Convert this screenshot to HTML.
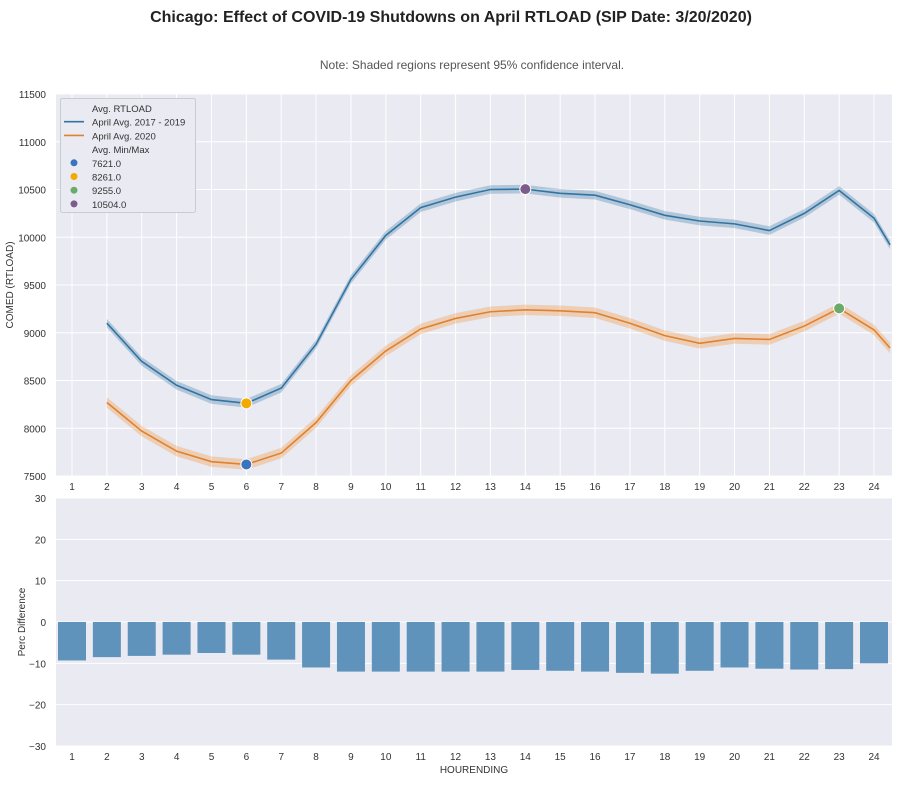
<!DOCTYPE html>
<html><head><meta charset="utf-8"><style>
body{margin:0;background:#fff;font-family:"Liberation Sans",Arial,sans-serif}
</style></head><body>
<svg id="s" width="902" height="782" xmlns="http://www.w3.org/2000/svg" font-family="Liberation Sans, Arial, sans-serif"></svg>
<script>
const s=document.getElementById('s');let h='';
const X=i=>72+(i-1)*34.87;
const Y1=v=>476-(v-7500)*382/4000;
const Y2=v=>622-v*248/60;
h+=`<text x="451" y="22" text-anchor="middle" font-size="16" font-weight="bold" fill="#222">Chicago: Effect of COVID-19 Shutdowns on April RTLOAD (SIP Date: 3/20/2020)</text>`;
h+=`<text x="472" y="69" text-anchor="middle" font-size="12" fill="#555">Note: Shaded regions represent 95% confidence interval.</text>`;
// top axes
h+=`<rect x="56" y="94" width="836" height="382" fill="#eaeaf2"/>`;
for(let v=7500;v<=11500;v+=500){h+=`<line x1="56" x2="892" y1="${Y1(v)}" y2="${Y1(v)}" stroke="#fff"/>`;h+=`<text x="46" y="${Y1(v)+4}" text-anchor="end" font-size="10" fill="#333">${v}</text>`;}
for(let i=1;i<=24;i++){h+=`<line x1="${X(i)}" x2="${X(i)}" y1="94" y2="476" stroke="#fff"/>`;h+=`<text x="${X(i)}" y="490" text-anchor="middle" font-size="10" fill="#333">${i}</text>`;}
const b=[[2,9100],[3,8700],[4,8450],[5,8300],[6,8261],[7,8420],[8,8880],[9,9560],[10,10020],[11,10310],[12,10420],[13,10500],[14,10504],[15,10460],[16,10440],[17,10340],[18,10230],[19,10170],[20,10140],[21,10070],[22,10250],[23,10490],[24,10200],[24.46,9920]];
const o=[[2,8270],[3,7970],[4,7760],[5,7650],[6,7621],[7,7740],[8,8060],[9,8500],[10,8810],[11,9040],[12,9150],[13,9220],[14,9240],[15,9230],[16,9210],[17,9100],[18,8970],[19,8890],[20,8940],[21,8930],[22,9070],[23,9255],[24,9030],[24.46,8840]];
function band(d,w,c){let up=d.map(p=>`${X(p[0])},${Y1(p[1]+w)}`),dn=d.slice().reverse().map(p=>`${X(p[0])},${Y1(p[1]-w)}`);return `<polygon points="${up.concat(dn).join(' ')}" fill="${c}" opacity="0.3"/>`;}
function line(d,c){return `<polyline points="${d.map(p=>X(p[0])+','+Y1(p[1])).join(' ')}" fill="none" stroke="${c}" stroke-width="1.6"/>`;}
h+=`<g clip-path="url(#c)">`+band(b,45,'#3274a1')+band(o,55,'#f28e2b')+line(b,'#3274a1')+line(o,'#e1812c')+`</g>`;
h+=`<defs><clipPath id="c"><rect x="56" y="94" width="836" height="382"/></clipPath></defs>`;
[[6,7621,'#3a73bf'],[6,8261,'#f2a900'],[23,9255,'#6aaa6a'],[14,10504,'#7b5c8a']].forEach(m=>h+=`<circle cx="${X(m[0])}" cy="${Y1(m[1])}" r="5.5" fill="${m[2]}" stroke="#fff" stroke-width="1"/>`);
// legend
h+=`<rect x="60.5" y="98.5" width="135" height="114" fill="#eaeaf2" stroke="#ccc" rx="2"/>`;
const L=[['Avg. RTLOAD',null],['April Avg. 2017 - 2019','l#3274a1'],['April Avg. 2020','l#e1812c'],['Avg. Min/Max',null],['7621.0','c#3a73bf'],['8261.0','c#f2a900'],['9255.0','c#6aaa6a'],['10504.0','c#7b5c8a']];
L.forEach((e,k)=>{const y=108+k*13.7;h+=`<text x="92" y="${y+4}" font-size="9.5" fill="#333">${e[0]}</text>`;if(e[1]){if(e[1][0]=='l')h+=`<line x1="64" x2="84" y1="${y}" y2="${y}" stroke="${e[1].slice(1)}" stroke-width="1.6"/>`;else h+=`<circle cx="74" cy="${y}" r="3.5" fill="${e[1].slice(1)}"/>`;}});
h+=`<text transform="translate(13,285) rotate(-90)" text-anchor="middle" font-size="10" fill="#333">COMED (RTLOAD)</text>`;
// bottom axes
h+=`<rect x="56" y="498" width="836" height="248" fill="#eaeaf2"/>`;
for(let v=-30;v<=30;v+=10){h+=`<line x1="56" x2="892" y1="${Y2(v)}" y2="${Y2(v)}" stroke="#fff"/>`;h+=`<text x="46" y="${Y2(v)+4}" text-anchor="end" font-size="10" fill="#333">${v<0?'\u2212'+(-v):v}</text>`;}
const p=[-9.3,-8.5,-8.2,-7.9,-7.5,-7.9,-9.1,-11,-12,-12,-12,-12,-12,-11.6,-11.8,-12,-12.3,-12.5,-11.8,-11,-11.3,-11.5,-11.4,-10];
p.forEach((v,k)=>{const i=k+1;h+=`<rect x="${X(i)-14}" y="622" width="28" height="${Y2(v)-622}" fill="#5f93bb"/>`;h+=`<text x="${X(i)}" y="760" text-anchor="middle" font-size="10" fill="#333">${i}</text>`;});
h+=`<text transform="translate(25,622) rotate(-90)" text-anchor="middle" font-size="10" fill="#333">Perc Difference</text>`;
h+=`<text x="474" y="773" text-anchor="middle" font-size="10" fill="#333">HOURENDING</text>`;
s.innerHTML=h;
</script>
</body></html>
